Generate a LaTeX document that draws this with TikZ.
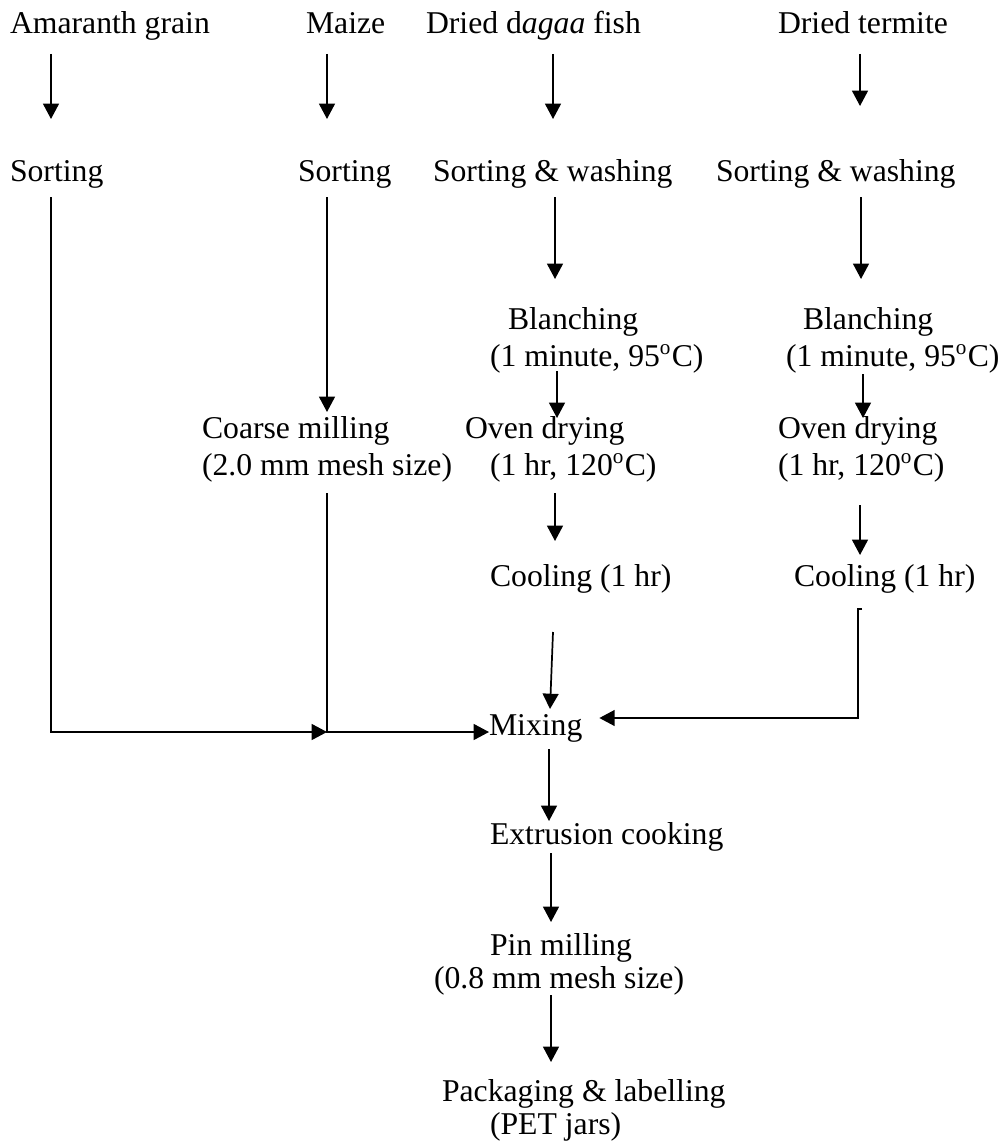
\documentclass[tikz,border=0pt]{standalone}
\usepackage{fontspec}
\setmainfont{Liberation Serif}
\usetikzlibrary{arrows.meta, calc}

\begin{document}
\begin{tikzpicture}[x=0.3785pt, y=-0.3785pt,
    >={Triangle[length=5.8pt, width=6pt]},
    font=\fontsize{12pt}{14pt}\selectfont,
    step_txt/.style={anchor=base west, inner sep=0pt, outer sep=0pt},
    flow/.style={->, line width=0.65pt},
]
    \useasboundingbox (0,0) rectangle (1003,1147);

    \coordinate (cA) at (51,0);
    \coordinate (cM) at (327,0);
    \coordinate (cD) at (555,0);
    \coordinate (cT) at (861,0);
    \coordinate (cO) at (550,0);

    \node[step_txt] (amar)    at (10,34)  {Amaranth grain};
    \node[step_txt] (maize)   at (306,34) {Maize};
    \node[step_txt] (dagaa)   at (426,34) {Dried d\textit{agaa} fish};
    \node[step_txt] (termite) at (778,34) {Dried termite};

    \node[step_txt] (sortA) at (10,182)  {Sorting};
    \node[step_txt] (sortM) at (298,182) {Sorting};
    \node[step_txt] (sortD) at (433,182) {Sorting \& washing};
    \node[step_txt] (sortT) at (716,182) {Sorting \& washing};

    \node[step_txt] (blD)  at (508,329) {Blanching};
    \node[step_txt] (blDb) at (490,366) {(1 minute, 95\textsuperscript{o}C)};
    \node[step_txt] (blT)  at (803,329) {Blanching};
    \node[step_txt] (blTb) at (786,366) {(1 minute, 95\textsuperscript{o}C)};

    \node[step_txt] (cmM)  at (202,438) {Coarse milling};
    \node[step_txt] (cmMb) at (202,475) {(2.0 mm mesh size)};
    \node[step_txt] (ovD)  at (465,438) {Oven drying};
    \node[step_txt] (ovDb) at (490,475) {(1 hr, 120\textsuperscript{o}C)};
    \node[step_txt] (ovT)  at (778,438) {Oven drying};
    \node[step_txt] (ovTb) at (778,475) {(1 hr, 120\textsuperscript{o}C)};

    \node[step_txt] (coD) at (490,586) {Cooling (1 hr)};
    \node[step_txt] (coT) at (794,586) {Cooling (1 hr)};

    \node[step_txt] (mix)   at (489,735)  {Mixing};
    \node[step_txt] (ext)   at (490,844)  {Extrusion cooking};
    \node[step_txt] (pin)   at (490,955)  {Pin milling};
    \node[step_txt] (pinb)  at (434,988)  {(0.8 mm mesh size)};
    \node[step_txt] (pack)  at (442,1101) {Packaging \& labelling};
    \node[step_txt] (packb) at (490,1134) {(PET jars)};

    \draw[flow] ($(amar.base -| cA)+(0,20)$)     -- ($(sortA.base -| cA)+(0,-63)$);
    \draw[flow] ($(maize.base -| cM)+(0,20)$)    -- ($(sortM.base -| cM)+(0,-63)$);
    \draw[flow] ($(dagaa.base -| cD)+(-2,20)$)   -- ($(sortD.base -| cD)+(-2,-63)$);
    \draw[flow] ($(termite.base -| cT)+(-1,20)$) -- ($(sortT.base -| cT)+(-1,-76)$);

    \draw[flow] ($(sortD.base -| cD)+(0,15)$) -- ($(blD.base -| cD)+(0,-50)$);
    \draw[flow] ($(sortT.base -| cT)+(0,15)$) -- ($(blT.base -| cT)+(0,-50)$);
    \draw[flow] ($(blDb.base -| cD)+(2,5)$)   -- ($(ovD.base -| cD)+(2,-20)$);
    \draw[flow] ($(blTb.base -| cT)+(2,8)$)   -- ($(ovT.base -| cT)+(2,-20)$);
    \draw[flow] ($(sortM.base -| cM)+(0,15)$) -- ($(cmM.base -| cM)+(0,-26)$);
    \draw[flow] ($(ovDb.base -| cD)+(0,18)$)  -- ($(coD.base -| cD)+(0,-45)$);
    \draw[flow] ($(ovTb.base -| cT)+(-1,30)$) -- ($(coT.base -| cT)+(-1,-31)$);

    \coordinate (jM) at ($(mix.base west -| cM)+(0,-3)$);
    \draw[flow] ($(sortA.base -| cA)+(0,15)$) |- (jM);
    \draw[flow] ($(cmMb.base -| cM)+(0,18)$) -- (jM) -- ($(mix.base west)+(0,-3)$);
    \draw[flow] ($(coD.base west)+(63,46)$) -- ($(mix.base west)+(61,-26)$);
    \draw[flow] ($(coT.base -| cT)+(1,23)$) -- ++(-4,0) |- ($(mix.base east)+(17,-17)$);

    \draw[flow] ($(mix.base -| cO)+(-1,14)$) -- ($(ext.base -| cO)+(-1,-23)$);
    \draw[flow] ($(ext.base -| cO)+(1,9)$)   -- ($(pin.base -| cO)+(1,-33)$);
    \draw[flow] ($(pinb.base -| cO)+(1,7)$)  -- ($(pack.base -| cO)+(1,-39)$);

\end{tikzpicture}
\end{document}
